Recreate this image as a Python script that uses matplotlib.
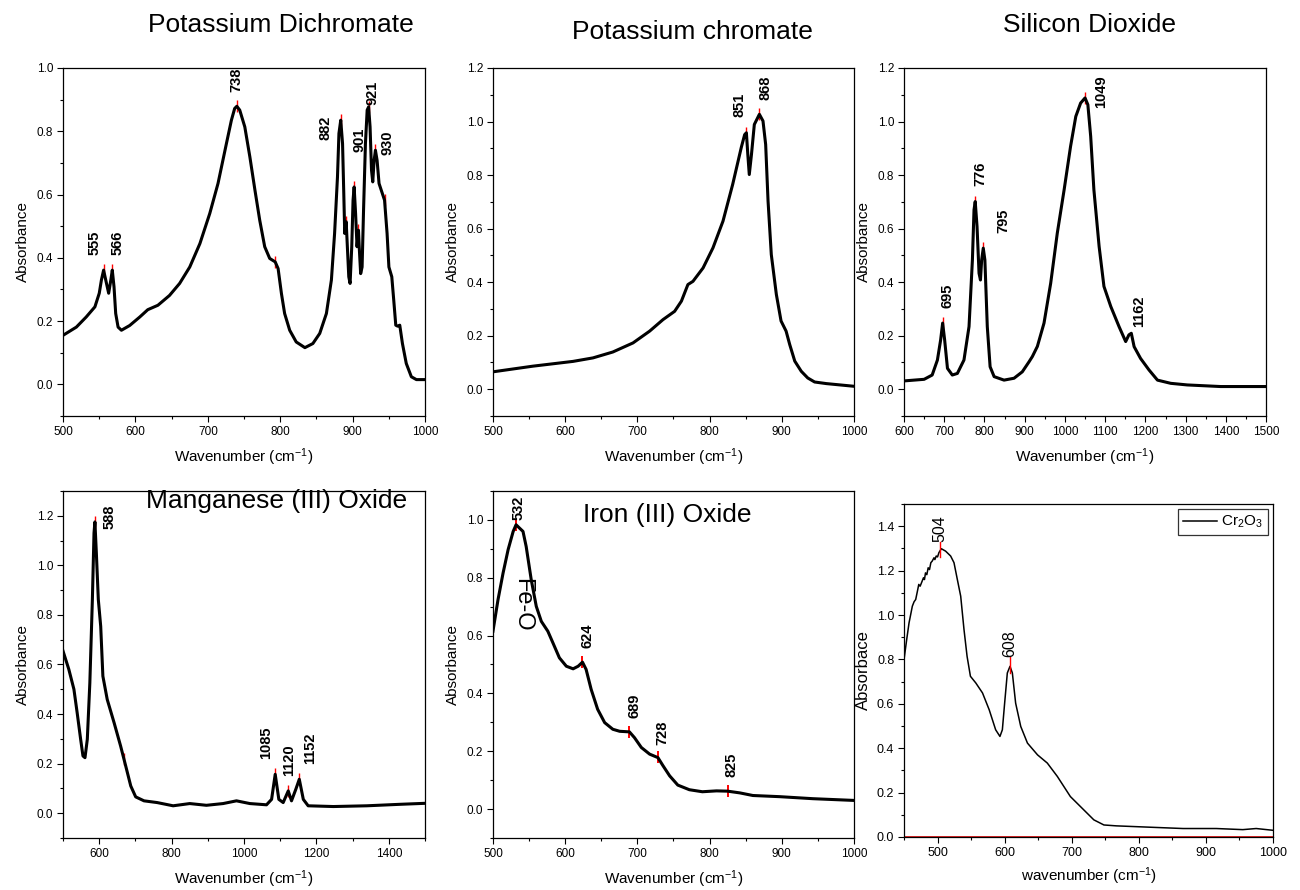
import numpy as np
import matplotlib
matplotlib.use('Agg')
import matplotlib.pyplot as plt
from matplotlib.ticker import MultipleLocator

plt.rcParams['font.family'] = ['Liberation Sans', 'DejaVu Sans']
plt.rcParams['mathtext.fontset'] = 'custom'
plt.rcParams['mathtext.rm'] = 'Liberation Sans'
plt.rcParams['mathtext.it'] = 'Liberation Sans:italic'
plt.rcParams['mathtext.bf'] = 'Liberation Sans:bold'

# ---- potassium dichromate ----
kd_x = [500, 518.4, 532, 544, 550, 553, 556, 560, 563, 566, 568, 570.4, 572.7, 576, 580.6, 592,
        606, 617, 631, 647, 661, 675, 689, 702.6, 714, 725.6, 732.5, 737, 740, 744, 751, 758,
        765, 771.6, 778.5, 785.4, 793, 797, 801.6, 806, 813, 822, 834, 845, 854.5, 863.7,
        870.6, 875, 879, 881, 883.5, 886, 887.7, 889, 891, 892, 894.6, 896.4, 898.7, 900.5,
        902, 904, 906, 908, 909, 911, 913, 915, 917.6, 920, 922, 924, 926, 927.7, 929.6,
        931.4, 933.7, 936.4, 941, 944, 947.5, 950, 954, 956.7, 959.5, 962, 965, 968.7, 974,
        981, 988, 1000]
kd_y = [0.155, 0.181, 0.213, 0.245, 0.288, 0.330, 0.361, 0.319, 0.288, 0.330, 0.361, 0.308,
        0.224, 0.181, 0.171, 0.186, 0.213, 0.236, 0.250, 0.281, 0.319, 0.371, 0.445, 0.540,
        0.635, 0.761, 0.835, 0.872, 0.879, 0.867, 0.814, 0.719, 0.614, 0.519, 0.435, 0.398,
        0.387, 0.366, 0.287, 0.224, 0.171, 0.134, 0.116, 0.129, 0.161, 0.224, 0.330, 0.477,
        0.656, 0.793, 0.835, 0.761, 0.603, 0.477, 0.514, 0.466, 0.340, 0.319, 0.435, 0.582,
        0.624, 0.540, 0.435, 0.487, 0.435, 0.350, 0.371, 0.551, 0.761, 0.867, 0.877, 0.814,
        0.677, 0.640, 0.708, 0.740, 0.708, 0.635, 0.603, 0.582, 0.477, 0.371, 0.340, 0.266,
        0.187, 0.184, 0.187, 0.129, 0.066, 0.024, 0.015, 0.015]
kd_marks = [556, 568, 740, 793, 883.5, 891, 902, 908, 922, 931.4, 944]
kd_peaks = ['555', '566', '738', '882', '901', '921', '930']

# ---- potassium chromate ----
kc_x = [500, 555, 611, 638.5, 666, 694, 717, 735.5, 751.6, 761, 770, 777, 791, 804.7, 818.6,
        832, 844, 848.6, 851, 853, 855, 858, 862, 869, 874, 877.7, 881, 885.5, 892.5, 899,
        906, 911, 918, 927, 936, 945.5, 961.7, 1000]
kc_y = [0.065, 0.086, 0.104, 0.117, 0.139, 0.173, 0.217, 0.260, 0.291, 0.329, 0.391, 0.403,
        0.453, 0.528, 0.628, 0.765, 0.904, 0.951, 0.958, 0.876, 0.802, 0.876, 0.989, 1.027,
        1.002, 0.914, 0.703, 0.503, 0.354, 0.255, 0.217, 0.167, 0.105, 0.067, 0.042, 0.027,
        0.021, 0.011]
kc_marks = [851, 869]
kc_peaks = ['851', '868']

# ---- silicon dioxide ----
si_x = [600, 650, 670, 683, 691, 696, 701, 708, 720, 732.6, 749, 761.6, 770, 774, 777, 781.5,
        786.5, 790, 793, 797, 801, 807, 814, 824, 848.6, 873.5, 894, 911, 919, 931.5, 948,
        964.6, 981, 998, 1014, 1027, 1039, 1050, 1057, 1064, 1072, 1085, 1097, 1114, 1134.5,
        1151, 1159, 1165, 1172, 1188, 1209, 1230, 1263, 1304, 1387, 1500]
si_y = [0.031, 0.037, 0.053, 0.109, 0.184, 0.247, 0.184, 0.078, 0.053, 0.059, 0.109, 0.234,
        0.483, 0.670, 0.701, 0.608, 0.433, 0.408, 0.483, 0.527, 0.483, 0.234, 0.084, 0.047,
        0.034, 0.041, 0.065, 0.103, 0.122, 0.160, 0.247, 0.396, 0.583, 0.745, 0.907, 1.019,
        1.069, 1.088, 1.063, 0.945, 0.745, 0.533, 0.384, 0.309, 0.234, 0.178, 0.203, 0.209,
        0.159, 0.115, 0.072, 0.034, 0.022, 0.016, 0.010, 0.010]
si_marks = [696, 777, 797, 1050]
si_peaks = ['695', '776', '795', '1049', '1162']

# ---- manganese (III) oxide ----
mn_x = [500, 516, 530, 539, 548.6, 555, 560.6, 567, 574, 581, 585.5, 588, 592, 597.4, 604, 610,
        622, 641, 659, 673, 687, 700.6, 723.6, 760, 804, 850, 896, 942, 979, 1016, 1062, 1076,
        1086, 1096, 1108, 1122, 1131, 1143, 1152.5, 1163.6, 1177, 1246.5, 1339, 1431, 1500]
mn_y = [0.654, 0.580, 0.500, 0.405, 0.298, 0.231, 0.224, 0.298, 0.526, 0.862, 1.130, 1.175,
        1.049, 0.862, 0.754, 0.553, 0.459, 0.365, 0.271, 0.191, 0.110, 0.066, 0.050, 0.043,
        0.030, 0.039, 0.032, 0.039, 0.050, 0.039, 0.034, 0.056, 0.157, 0.056, 0.043, 0.090,
        0.050, 0.097, 0.137, 0.056, 0.030, 0.027, 0.030, 0.036, 0.040]
mn_marks = [588, 668, 1086, 1122, 1152.5]
mn_peaks = ['588', '1085', '1120', '1152']

# ---- iron (III) oxide ----
fe_x = [500, 507, 514, 521, 528, 532, 537, 541.6, 546, 553, 560, 567, 576, 583, 592, 601.6, 611,
        618, 624, 629, 636, 645, 654.7, 666, 675.5, 689, 696, 705.5, 717, 728.5, 735.5, 744.7,
        756, 772, 790, 809.6, 825, 842, 860, 897, 943, 1000]
fe_y = [0.615, 0.724, 0.816, 0.897, 0.960, 0.983, 0.971, 0.960, 0.908, 0.793, 0.701, 0.649,
        0.615, 0.575, 0.523, 0.494, 0.485, 0.494, 0.508, 0.483, 0.414, 0.345, 0.299, 0.276,
        0.269, 0.267, 0.247, 0.213, 0.190, 0.178, 0.150, 0.115, 0.083, 0.067, 0.060, 0.063,
        0.062, 0.056, 0.047, 0.043, 0.036, 0.030]
fe_marks = [532, 624, 689, 728, 825]
fe_peaks = ['532', '624', '689', '728', '825']

# ---- Cr2O3 ----
cr_x = [450, 454, 457.5, 462.4, 465, 467.4, 470, 472, 474, 476, 479, 480.5, 482, 484, 486, 488,
        490, 492, 494.7, 496, 498, 500, 502, 505.6, 512, 519.5, 524.5, 529.5, 534.5, 539.4,
        544, 549, 557, 567, 577, 586.6, 593, 596.6, 600, 604, 608, 611.5, 616.4, 624, 634,
        649, 663.6, 678.5, 698, 718, 733, 748, 766.5, 816, 866, 915.5, 955, 975, 1000]
cr_y = [0.799, 0.890, 0.965, 1.040, 1.060, 1.070, 1.108, 1.138, 1.130, 1.145, 1.168, 1.160,
        1.190, 1.182, 1.213, 1.205, 1.236, 1.243, 1.258, 1.250, 1.266, 1.262, 1.281, 1.299,
        1.288, 1.266, 1.236, 1.160, 1.085, 0.935, 0.814, 0.724, 0.694, 0.649, 0.573, 0.483,
        0.453, 0.483, 0.603, 0.739, 0.769, 0.739, 0.603, 0.498, 0.423, 0.370, 0.333, 0.273,
        0.182, 0.122, 0.077, 0.054, 0.050, 0.044, 0.038, 0.038, 0.033, 0.038, 0.030]
cr_peaks = [504, 608]

XLAB = 'Wavenumber (cm$^{-1}$)'

fig = plt.figure(figsize=(13, 8.9), dpi=100)


def setup(ax, xlim, ylim, xmaj, xmin, ymaj, ymin, tfs=8.5):
    ax.set_xlim(*xlim)
    ax.set_ylim(*ylim)
    ax.xaxis.set_major_locator(MultipleLocator(xmaj))
    ax.xaxis.set_minor_locator(MultipleLocator(xmin))
    ax.yaxis.set_major_locator(MultipleLocator(ymaj))
    ax.yaxis.set_minor_locator(MultipleLocator(ymin))
    ax.yaxis.set_major_formatter(plt.FuncFormatter(lambda v, p: '%.1f' % v))
    ax.tick_params(which='major', direction='out', length=4, width=0.8, labelsize=tfs, pad=3)
    ax.tick_params(which='minor', direction='out', length=2.5, width=0.8)
    for s in ax.spines.values():
        s.set_linewidth(0.9)
    ax.set_ylabel('Absorbance', fontsize=11, labelpad=5)
    ax.set_xlabel(XLAB, fontsize=11, labelpad=6)


def spectrum(ax, x, y, marks, ms=9, mew=1.0):
    ax.plot(marks, np.interp(marks, x, y), '|', color='red', ms=ms, mew=mew, zorder=1)
    ax.plot(x, y, color='black', lw=2.2, zorder=2, solid_joinstyle='round')


def labels(ax, items, bold=True, fs=10.5):
    for txt, tx, ty in items:
        ax.text(tx, ty, txt, rotation=90, ha='center', va='bottom', fontsize=fs,
                fontweight='bold' if bold else 'normal')


# panel 1
ax1 = fig.add_axes([0.0485, 0.5326, 0.2785, 0.391])
spectrum(ax1, kd_x, kd_y, kd_marks)
setup(ax1, (500, 1000), (-0.1, 1.0), 100, 50, 0.2, 0.1)
labels(ax1, [(kd_peaks[0], 543, 0.41), (kd_peaks[1], 576, 0.41), (kd_peaks[2], 739.6, 0.923),
             (kd_peaks[3], 863, 0.773), (kd_peaks[4], 909, 0.736), (kd_peaks[5], 927, 0.884),
             (kd_peaks[6], 948, 0.726)])
fig.text(0.216, 0.972, 'Potassium Dichromate', ha='center', va='center', fontsize=19)

# panel 2
ax2 = fig.add_axes([0.3792, 0.5326, 0.2777, 0.391])
spectrum(ax2, kc_x, kc_y, kc_marks)
setup(ax2, (500, 1000), (-0.1, 1.2), 100, 50, 0.2, 0.1)
labels(ax2, [(kc_peaks[0], 841.6, 1.017), (kc_peaks[1], 877, 1.082)])
fig.text(0.533, 0.964, 'Potassium chromate', ha='center', va='center', fontsize=19)

# panel 3
ax3 = fig.add_axes([0.6954, 0.5326, 0.2785, 0.391])
spectrum(ax3, si_x, si_y, si_marks)
setup(ax3, (600, 1500), (-0.1, 1.2), 100, 50, 0.2, 0.1)
labels(ax3, [(si_peaks[0], 708, 0.303), (si_peaks[1], 790, 0.758), (si_peaks[2], 848, 0.583),
             (si_peaks[3], 1091, 1.05), (si_peaks[4], 1184, 0.234)])
fig.text(0.838, 0.972, 'Silicon Dioxide', ha='center', va='center', fontsize=19)

# panel 4
ax4 = fig.add_axes([0.0485, 0.0584, 0.2785, 0.390])
spectrum(ax4, mn_x, mn_y, mn_marks)
setup(ax4, (500, 1500), (-0.1, 1.3), 200, 100, 0.2, 0.1)
labels(ax4, [(mn_peaks[0], 629, 1.146), (mn_peaks[1], 1062, 0.217),
             (mn_peaks[2], 1124, 0.150), (mn_peaks[3], 1182, 0.197)])
ax4.text(1090, 1.258, 'Manganese (III) Oxide', ha='center', va='center', fontsize=19)

# panel 5
ax5 = fig.add_axes([0.3792, 0.0584, 0.2777, 0.390])
spectrum(ax5, fe_x, fe_y, fe_marks, ms=9, mew=1.4)
setup(ax5, (500, 1000), (-0.1, 1.1), 100, 50, 0.2, 0.1)
labels(ax5, [(fe_peaks[0], 535.5, 1.0), (fe_peaks[1], 631, 0.557), (fe_peaks[2], 696, 0.315),
             (fe_peaks[3], 734.5, 0.223), (fe_peaks[4], 831, 0.112)])
ax5.text(741.5, 1.017, 'Iron (III) Oxide', ha='center', va='center', fontsize=19)
ax5.text(541, 0.707, 'Fe-O', rotation=270, ha='center', va='center', fontsize=17)

# panel 6
ax6 = fig.add_axes([0.6954, 0.0596, 0.2838, 0.374])
ax6.axhline(0, color='#dd0000', lw=1.2, zorder=1)
ax6.plot(cr_x, cr_y, color='black', lw=1.1, label='Cr$_2$O$_3$', zorder=2)
setup(ax6, (450, 1000), (0, 1.5), 100, 50, 0.2, 0.1, tfs=9)
ax6.set_ylabel('Absorbace', fontsize=12, labelpad=4)
ax6.set_xlabel('wavenumber (cm$^{-1}$)', fontsize=11, labelpad=5)
for p in cr_peaks:
    py = np.interp(p, cr_x, cr_y)
    ax6.plot([p, p], [py - 0.03, py + 0.04], color='red', lw=1, zorder=3)
    ax6.text(p, py + 0.04, str(p), rotation=90, ha='center', va='bottom', fontsize=11.5)
leg = ax6.legend(loc='upper right', fontsize=11, frameon=True, fancybox=False,
                 edgecolor='black', handlelength=2.2, borderpad=0.3, handletextpad=0.3,
                 borderaxespad=0.35)
leg.get_frame().set_linewidth(0.9)

fig.savefig('out.png', dpi=100)
